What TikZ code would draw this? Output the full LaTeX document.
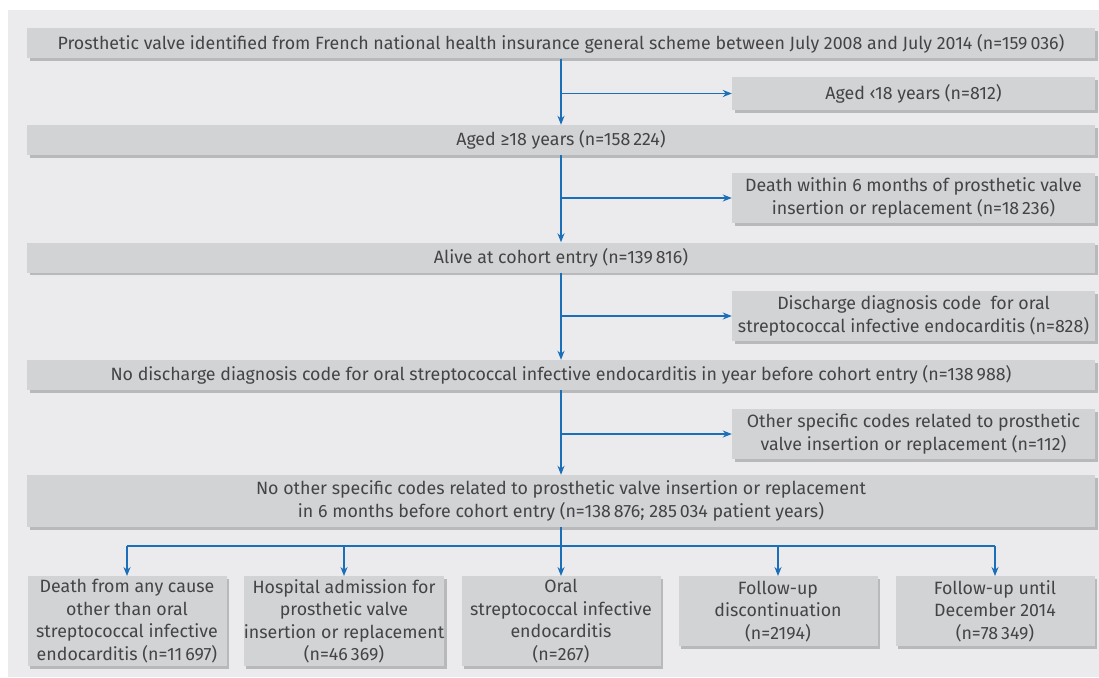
\documentclass[tikz,border=0pt]{standalone}
\usepackage{fontspec}
\setmainfont{Fira Sans}
\usetikzlibrary{arrows.meta}

\definecolor{panelgray}{HTML}{EBEBED}
\definecolor{boxgray}{HTML}{D2D3D5}
\definecolor{shadegray}{HTML}{B8B9BB}
\definecolor{flowblue}{HTML}{1A6FB8}
\definecolor{inkgray}{HTML}{444446}

\tikzset{
  stage/.style={fill=boxgray, text=inkgray, align=center, inner sep=0pt,
    font=\fontsize{17.8}{22.5}\selectfont,
    preaction={fill=shadegray, transform canvas={shift={(2.5pt,-2.5pt)}}}},
  mainbox/.style={stage, minimum width=1068pt, minimum height=30pt},
  sidebox/.style={stage, minimum width=363pt},
  endbox/.style={stage, minimum width=199pt, anchor=north},
  flow/.style={draw=flowblue, line width=1.6pt, -{Stealth[length=9pt,width=7pt]}},
  trunk/.style={draw=flowblue, line width=1.6pt}
}

\begin{document}
\begin{tikzpicture}[x=1pt,y=-1pt]
  \useasboundingbox (0,0) rectangle (1099,677);
  \fill[panelgray] (8,10) rectangle (1099,677);

  % main column
  \node[mainbox] (total) at (561,43.5)
    {Prosthetic valve identified from French national health insurance general scheme between July 2008 and July 2014 (n=159\,036)};
  \node[mainbox] (adult) at (561,140) {Aged ≥18 years (n=158\,224)};
  \node[mainbox] (alive) at (561,257.5) {Alive at cohort entry (n=139\,816)};
  \node[mainbox] (noie) at (561,375)
    {No discharge diagnosis code for oral streptococcal infective endocarditis in year before cohort entry (n=138\,988)};
  \node[mainbox, minimum height=52pt] (cohort) at (561,501)
    {No other specific codes related to prosthetic valve insertion or replacement\\
     in 6 months before cohort entry (n=138\,876; 285\,034 patient years)};

  % exclusions
  \node[sidebox, minimum height=33pt] (minor) at (913.5,93.5) {Aged ‹18 years (n=812)};
  \node[sidebox, minimum height=50pt] (early) at (913.5,198)
    {Death within 6 months of prosthetic valve\\insertion or replacement (n=18\,236)};
  \node[sidebox, minimum height=50pt] (prior) at (913.5,316)
    {Discharge diagnosis code~ for oral\\streptococcal infective endocarditis (n=828)};
  \node[sidebox, minimum height=50pt] (other) at (913.5,434)
    {Other specific codes related to prosthetic\\valve insertion or replacement (n=112)};

  % outcomes
  \node[endbox, minimum height=90pt] (death) at (127,576)
    {Death from any cause\\other than oral\\streptococcal infective\\endocarditis (n=11\,697)};
  \node[endbox, minimum height=90pt] (admit) at (344,576)
    {Hospital admission for\\prosthetic valve\\insertion or replacement\\(n=46\,369)};
  \node[endbox, minimum height=90pt] (osie) at (561,576)
    {Oral\\streptococcal infective\\endocarditis\\(n=267)};
  \node[endbox, minimum height=70pt] (lost) at (778,576)
    {Follow-up\\discontinuation\\(n=2194)};
  \node[endbox, minimum height=70pt] (final) at (995,576)
    {Follow-up until\\December 2014\\(n=78\,349)};

  % connectors
  \draw[flow] (total.south) -- (adult.north);
  \draw[flow] (total.south |- minor.west) -- (minor.west);
  \draw[flow] (adult.south) -- (alive.north);
  \draw[flow] (adult.south |- early.west) -- (early.west);
  \draw[flow] (alive.south) -- (noie.north);
  \draw[flow] (alive.south |- prior.west) -- (prior.west);
  \draw[flow] (noie.south) -- (cohort.north);
  \draw[flow] (noie.south |- other.west) -- (other.west);

  \draw[trunk] (cohort.south) -- ++(0,19) coordinate (split);
  \draw[trunk] (split -| death.north) -- (split -| final.north);
  \foreach \n in {death,admit,osie,lost,final}
    \draw[flow] (split -| \n.north) -- (\n.north);
\end{tikzpicture}
\end{document}
